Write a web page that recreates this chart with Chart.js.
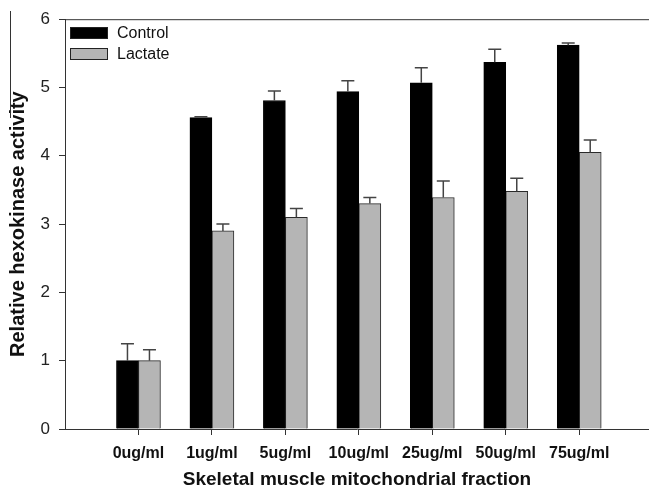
<!DOCTYPE html>
<html>
<head>
<meta charset="utf-8">
<script src="https://cdn.jsdelivr.net/npm/chart.js@4"></script>
<style>
  html, body { margin: 0; padding: 0; background: #fff; }
  #wrap { width: 649px; height: 489px; position: relative; }
</style>
</head>
<body>
<div id="wrap"><canvas id="chart"></canvas></div>
<script>
  // categories and values
  let categorias = ['0ug/ml', '1ug/ml', '5ug/ml', '10ug/ml', '25ug/ml', '50ug/ml', '75ug/ml'];
  let control = [1.00, 4.56, 4.81, 4.94, 5.07, 5.37, 5.62];
  let controlErr = [0.25, 0.01, 0.14, 0.16, 0.22, 0.19, 0.03];
  let lactato = [1.00, 2.90, 3.10, 3.30, 3.39, 3.48, 4.05];
  let lactatoErr = [0.16, 0.10, 0.13, 0.09, 0.24, 0.19, 0.18];
  let yTicks = [0, 1, 2, 3, 4, 5, 6];

  let datos = {
      datasets: [
          {
              label: 'Control',
              data: control.map((v, i) => ({ x: i, y: v })),
              err: controlErr,
              backgroundColor: '#000000',
              borderColor: '#000000',
              borderWidth: 1,
              barThickness: 22,
          },
          {
              label: 'Lactate',
              data: lactato.map((v, i) => ({ x: i, y: v })),
              err: lactatoErr,
              backgroundColor: '#b5b5b5',
              borderColor: '#2a2a2a',
              borderWidth: 1,
              barThickness: 22,
          }
      ]
  };

  // error bars (upper only) + legend box + top frame line
  let extras = {
      id: 'extras',
      afterDatasetsDraw(chart) {
          let c = chart.ctx;
          let y = chart.scales.y;
          c.save();
          c.strokeStyle = '#444';
          c.lineWidth = 1.5;
          chart.data.datasets.forEach((ds, d) => {
              let meta = chart.getDatasetMeta(d);
              meta.data.forEach((bar, i) => {
                  let v = ds.data[i].y;
                  let top = y.getPixelForValue(v + ds.err[i]);
                  let base = y.getPixelForValue(v);
                  c.beginPath();
                  c.moveTo(bar.x, base);
                  c.lineTo(bar.x, top);
                  c.moveTo(bar.x - 6.5, top);
                  c.lineTo(bar.x + 6.5, top);
                  c.stroke();
              });
          });

          let area = chart.chartArea;
          c.strokeStyle = '#333';
          c.lineWidth = 1;
          c.beginPath();
          c.moveTo(area.left, area.top + 0.5);
          c.lineTo(chart.width, area.top + 0.5);
          c.stroke();

          // stray vertical rule at the far left of the original figure
          c.beginPath();
          c.moveTo(10.5, 11);
          c.lineTo(10.5, 118);
          c.stroke();

          // legend
          c.font = '16px Arial, "Liberation Sans", sans-serif';
          c.textBaseline = 'middle';
          chart.data.datasets.forEach((ds, d) => {
              let by = 27 + d * 21;
              c.fillStyle = ds.backgroundColor;
              c.fillRect(70, by, 38, 12);
              c.strokeStyle = '#222';
              c.strokeRect(70.5, by + 0.5, 37, 11);
              c.fillStyle = '#111';
              c.fillText(ds.label, 117, by + 6.5);
          });
          c.restore();
      }
  };

  let opciones = {
      responsive: true,
      maintainAspectRatio: false,
      animation: false,
      layout: {
          padding: { top: 18, right: 0, left: 0, bottom: 0 }
      },
      scales: {
          x: {
              type: 'linear',
              min: -1,
              max: 6.95,
              offset: false,
              afterBuildTicks: (scale) => {
                  scale.ticks = categorias.map((c, i) => ({ value: i }));
              },
              afterFit: (scale) => { scale.height = 60; },
              ticks: {
                  callback: (v) => categorias[v],
                  color: '#111',
                  padding: 9,
                  maxRotation: 0,
                  font: { family: 'Arial, "Liberation Sans", sans-serif', size: 16, weight: 'bold' }
              },
              grid: {
                  offset: false,
                  drawOnChartArea: false,
                  drawTicks: true,
                  tickLength: 6,
                  color: '#333',
              },
              border: { display: true, color: '#333', width: 1 },
              title: {
                  display: true,
                  text: 'Skeletal muscle mitochondrial fraction',
                  color: '#111',
                  padding: { top: 0, bottom: 0 },
                  font: { family: 'Arial, "Liberation Sans", sans-serif', size: 19, weight: 'bold', lineHeight: 1 }
              }
          },
          y: {
              min: 0,
              max: 6,
              afterBuildTicks: (scale) => {
                  scale.ticks = yTicks.map(v => ({ value: v }));
              },
              afterFit: (scale) => { scale.width = 65; },
              ticks: {
                  color: '#222',
                  padding: 9,
                  font: { family: 'Arial, "Liberation Sans", sans-serif', size: 17 }
              },
              grid: {
                  drawOnChartArea: false,
                  drawTicks: true,
                  tickLength: 6,
                  color: '#333',
              },
              border: { display: true, color: '#333', width: 1 },
              title: {
                  display: true,
                  text: 'Relative hexokinase activity',
                  color: '#111',
                  padding: { top: 7, bottom: 0 },
                  font: { family: 'Arial, "Liberation Sans", sans-serif', size: 20, weight: 'bold', lineHeight: 1.1 }
              }
          }
      },
      plugins: {
          legend: { display: false },
          title: { display: false },
          tooltip: { enabled: false },
      },
  };

  let ctx = document.getElementById('chart').getContext('2d');
  let miGrafica = new Chart(ctx, {
      type: 'bar',
      data: datos,
      options: opciones,
      plugins: [extras],
  });
</script>
</body>
</html>
